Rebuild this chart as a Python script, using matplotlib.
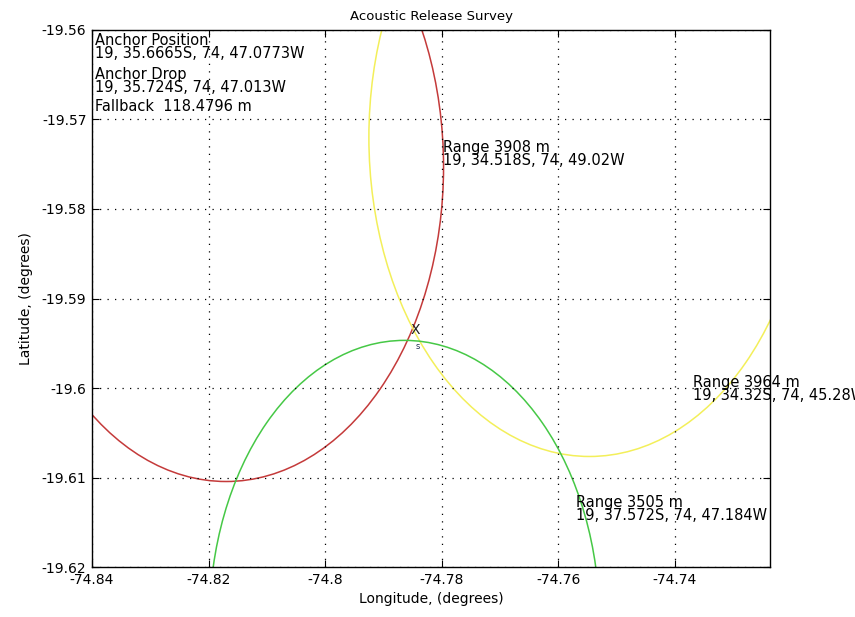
"""
Acoustic Release Survey
=======================

Range circles around three transducer positions
"""

# %%
# Imports
import numpy as np
import matplotlib
matplotlib.use("Agg")
import matplotlib.pyplot as plt
from matplotlib.patches import Ellipse

plt.rcParams["font.family"] = ["DejaVu Sans"]

# %%
# Survey data: ranging positions (lon, lat in degrees) and slant ranges (m)
site_lon = [-74.8170, -74.75467, -74.7864]
site_lat = [-19.5753, -19.5720, -19.6262]
site_range = [3908, 3964, 3505]
site_colors = ["#c43a3a", "#f3ef5a", "#46c846"]
site_labels = [
    "Range 3908 m\n19, 34.518S, 74, 49.02W",
    "Range 3964 m\n19, 34.32S, 74, 45.28W",
    "Range 3505 m\n19, 37.572S, 74, 47.184W",
]
# where the range labels sit
label_lon = [-74.7798, -74.7369, -74.7570]
label_lat = [-19.5739, -19.6001, -19.6135]

info_texts = [
    "Anchor Position\n19, 35.6665S, 74, 47.0773W",
    "Anchor Drop\n19, 35.724S, 74, 47.013W",
    "Fallback  118.4796 m",
]
info_lat = [-19.5619, -19.5657, -19.5685]

anchor_pos = (-74.7846, -19.5935)
anchor_drop = (-74.7841, -19.5954)

xticks = [-74.84, -74.82, -74.80, -74.78, -74.76, -74.74]
xticklabels = ["-74.84", "-74.82", "-74.8", "-74.78", "-74.76", "-74.74"]
yticks = [-19.62, -19.61, -19.60, -19.59, -19.58, -19.57, -19.56]
yticklabels = ["-19.62", "-19.61", "-19.6", "-19.59", "-19.58", "-19.57", "-19.56"]

# metres per degree of latitude
M_PER_DEG = 111195.0

# %%
# Plot
fig = plt.figure(figsize=(8.55, 6.17), dpi=100)
ax = fig.add_axes([0.1076, 0.081, 0.793, 0.8704])

for lon, lat, r, c in zip(site_lon, site_lat, site_range, site_colors):
    m_lon = M_PER_DEG * np.cos(np.radians(lat))
    ax.add_patch(Ellipse((lon, lat), width=2 * r / m_lon, height=2 * r / M_PER_DEG,
                         fill=False, edgecolor=c, linewidth=1.1))

for txt, lx, ly in zip(site_labels, label_lon, label_lat):
    ax.text(lx, ly, txt, fontsize=10.5, ha="left", va="center",
            linespacing=0.85, clip_on=False)

for txt, ly in zip(info_texts, info_lat):
    ax.text(-74.8395, ly, txt, fontsize=10.5, ha="left", va="center",
            linespacing=0.85)

ax.text(anchor_pos[0], anchor_pos[1], "X", fontsize=10, ha="center", va="center",
        color="#222222")
ax.text(anchor_drop[0], anchor_drop[1], "s", fontsize=6, ha="center", va="center",
        color="#223355")

ax.set_xlim(-74.84, -74.7237)
ax.set_ylim(-19.62, -19.56)
ax.set_xticks(xticks)
ax.set_xticklabels(xticklabels)
ax.set_yticks(yticks)
ax.set_yticklabels(yticklabels)
ax.tick_params(direction="in", top=True, right=True, length=5, labelsize=10, pad=4)
ax.grid(True, color="black", linestyle=(0, (1, 5)), linewidth=0.9)

for s in ax.spines.values():
    s.set_linewidth(1.0)

ax.set_title("Acoustic Release Survey", fontsize=9.5, pad=7)
ax.set_xlabel("Longitude, (degrees)", fontsize=10, labelpad=4)
ax.set_ylabel("Latitude, (degrees)", fontsize=10, labelpad=6)

fig.savefig("out.png", dpi=100)
